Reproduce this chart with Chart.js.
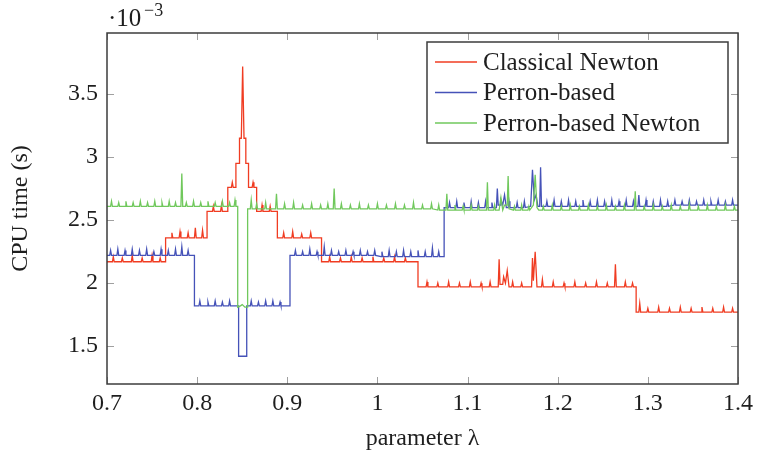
<!DOCTYPE html>
<html>
<head>
<meta charset="utf-8">
<script src="https://cdn.jsdelivr.net/npm/chart.js@4/dist/chart.umd.min.js"></script>
<style>
    html, body { margin: 0; padding: 0; background: #fff; }
    .chart-box { width: 758px; height: 457px; }
</style>
</head>
<body>
<div class="chart-box"><canvas id="cpuChart" width="758" height="457"></canvas></div>
<script>
// CPU time in units of 1e-3 s as [lambda, time]
const classicalNewton = [
    [0.700, 2.17], [0.706, 2.17], [0.707, 2.21], [0.708, 2.17], [0.716, 2.17], [0.717, 2.20], [0.718, 2.17],
    [0.727, 2.17], [0.728, 2.22], [0.729, 2.17], [0.738, 2.17], [0.739, 2.20], [0.740, 2.17],
    [0.749, 2.17], [0.750, 2.22], [0.751, 2.17], [0.758, 2.17], [0.759, 2.20], [0.760, 2.17], [0.765, 2.17],
    [0.765, 2.36], [0.771, 2.36], [0.772, 2.40], [0.773, 2.36], [0.780, 2.36], [0.781, 2.41], [0.782, 2.36],
    [0.789, 2.36], [0.790, 2.40], [0.791, 2.36], [0.797, 2.36], [0.798, 2.44], [0.799, 2.36],
    [0.805, 2.36], [0.806, 2.42], [0.807, 2.36], [0.811, 2.36],
    [0.811, 2.57], [0.817, 2.57], [0.818, 2.61], [0.819, 2.57], [0.826, 2.57], [0.827, 2.62], [0.828, 2.57], [0.834, 2.57],
    [0.834, 2.76], [0.838, 2.76], [0.839, 2.80], [0.840, 2.76], [0.843, 2.76],
    [0.843, 2.95], [0.847, 2.95], [0.847, 3.15], [0.849, 3.15], [0.8505, 3.72], [0.852, 3.15], [0.854, 3.15],
    [0.854, 2.95], [0.857, 2.95], [0.857, 2.76], [0.861, 2.76], [0.862, 2.80], [0.863, 2.76], [0.866, 2.76],
    [0.866, 2.57], [0.871, 2.57], [0.872, 2.62], [0.873, 2.57], [0.880, 2.57], [0.881, 2.61], [0.882, 2.57], [0.889, 2.57],
    [0.889, 2.36], [0.895, 2.36], [0.896, 2.40], [0.897, 2.36], [0.905, 2.36], [0.906, 2.41], [0.907, 2.36],
    [0.915, 2.36], [0.916, 2.39], [0.917, 2.36], [0.925, 2.36], [0.926, 2.40], [0.927, 2.36], [0.938, 2.36],
    [0.938, 2.17], [0.946, 2.17], [0.947, 2.21], [0.948, 2.17], [0.958, 2.17], [0.959, 2.20], [0.960, 2.17],
    [0.970, 2.17], [0.971, 2.21], [0.972, 2.17], [0.982, 2.17], [0.983, 2.20], [0.984, 2.17],
    [0.994, 2.17], [0.995, 2.21], [0.996, 2.17], [1.006, 2.17], [1.007, 2.20], [1.008, 2.17],
    [1.018, 2.17], [1.019, 2.21], [1.020, 2.17], [1.030, 2.17], [1.031, 2.20], [1.032, 2.17], [1.045, 2.17],
    [1.045, 1.97], [1.054, 1.97], [1.055, 2.01], [1.056, 1.97], [1.066, 1.97], [1.067, 2.00], [1.068, 1.97],
    [1.078, 1.97], [1.079, 2.01], [1.080, 1.97], [1.090, 1.97], [1.091, 2.00], [1.092, 1.97],
    [1.102, 1.97], [1.103, 2.01], [1.104, 1.97], [1.114, 1.97], [1.115, 2.00], [1.116, 1.97],
    [1.124, 1.97], [1.125, 2.01], [1.126, 1.97], [1.134, 1.97], [1.135, 2.19], [1.136, 1.99],
    [1.139, 1.99], [1.140, 2.05], [1.142, 2.00], [1.144, 2.10], [1.146, 1.97],
    [1.149, 1.97], [1.150, 2.01], [1.151, 1.97], [1.159, 1.97], [1.160, 2.00], [1.161, 1.97],
    [1.171, 1.97], [1.172, 2.20], [1.173, 2.02], [1.175, 2.25], [1.177, 1.97],
    [1.182, 1.97], [1.183, 2.03], [1.184, 1.97], [1.194, 1.97], [1.195, 2.01], [1.196, 1.97],
    [1.206, 1.97], [1.207, 2.00], [1.208, 1.97], [1.218, 1.97], [1.219, 2.01], [1.220, 1.97],
    [1.230, 1.97], [1.231, 2.00], [1.232, 1.97], [1.242, 1.97], [1.243, 2.01], [1.244, 1.97],
    [1.254, 1.97], [1.255, 2.00], [1.256, 1.97], [1.263, 1.97], [1.264, 2.15], [1.265, 1.97],
    [1.274, 1.97], [1.275, 2.01], [1.276, 1.97], [1.282, 1.97], [1.283, 2.00], [1.284, 1.97], [1.287, 1.97],
    [1.287, 1.77], [1.290, 1.77], [1.291, 1.84], [1.292, 1.77], [1.299, 1.77], [1.300, 1.80], [1.301, 1.77],
    [1.311, 1.77], [1.312, 1.81], [1.313, 1.77], [1.323, 1.77], [1.324, 1.80], [1.325, 1.77],
    [1.335, 1.77], [1.336, 1.81], [1.337, 1.77], [1.347, 1.77], [1.348, 1.80], [1.349, 1.77],
    [1.359, 1.77], [1.360, 1.81], [1.361, 1.77], [1.371, 1.77], [1.372, 1.80], [1.373, 1.77],
    [1.383, 1.77], [1.384, 1.81], [1.385, 1.77], [1.393, 1.77], [1.394, 1.80], [1.395, 1.77], [1.400, 1.77],
];

const perronBased = [
    [0.700, 2.22], [0.703, 2.22], [0.704, 2.26], [0.705, 2.22], [0.711, 2.22], [0.712, 2.27], [0.713, 2.22],
    [0.719, 2.22], [0.720, 2.26], [0.721, 2.22], [0.727, 2.22], [0.728, 2.27], [0.729, 2.22],
    [0.735, 2.22], [0.736, 2.26], [0.737, 2.22], [0.743, 2.22], [0.744, 2.27], [0.745, 2.22],
    [0.751, 2.22], [0.752, 2.25], [0.753, 2.22], [0.759, 2.22], [0.760, 2.27], [0.761, 2.22],
    [0.767, 2.22], [0.768, 2.26], [0.769, 2.22], [0.775, 2.22], [0.776, 2.27], [0.777, 2.22],
    [0.782, 2.22], [0.783, 2.29], [0.784, 2.22], [0.789, 2.22], [0.790, 2.26], [0.791, 2.22], [0.797, 2.22],
    [0.797, 1.82], [0.802, 1.82], [0.803, 1.86], [0.804, 1.82], [0.811, 1.82], [0.812, 1.85], [0.813, 1.82],
    [0.819, 1.82], [0.820, 1.86], [0.821, 1.82], [0.827, 1.82], [0.828, 1.85], [0.829, 1.82],
    [0.835, 1.82], [0.836, 1.86], [0.837, 1.82], [0.846, 1.82],
    [0.846, 1.42], [0.855, 1.42],
    [0.855, 1.82], [0.859, 1.82], [0.860, 1.86], [0.861, 1.82], [0.867, 1.82], [0.868, 1.85], [0.869, 1.82],
    [0.875, 1.82], [0.876, 1.86], [0.877, 1.82], [0.883, 1.82], [0.884, 1.86], [0.885, 1.82],
    [0.891, 1.82], [0.892, 1.85], [0.893, 1.82], [0.903, 1.82],
    [0.903, 2.22], [0.908, 2.22], [0.909, 2.26], [0.910, 2.22], [0.916, 2.22], [0.917, 2.25], [0.918, 2.22],
    [0.924, 2.22], [0.925, 2.27], [0.926, 2.22], [0.932, 2.22], [0.933, 2.25], [0.934, 2.22],
    [0.940, 2.22], [0.941, 2.29], [0.942, 2.22], [0.948, 2.22], [0.949, 2.26], [0.950, 2.22],
    [0.956, 2.22], [0.957, 2.25], [0.958, 2.22], [0.964, 2.22], [0.965, 2.26], [0.966, 2.22],
    [0.972, 2.22], [0.973, 2.25], [0.974, 2.22], [0.980, 2.22], [0.981, 2.26], [0.982, 2.22],
    [0.988, 2.22], [0.989, 2.25], [0.990, 2.22], [0.996, 2.22], [0.997, 2.26], [0.998, 2.22],
    [1.004, 2.21], [1.005, 2.25], [1.006, 2.21], [1.012, 2.21], [1.013, 2.26], [1.014, 2.21],
    [1.020, 2.21], [1.021, 2.25], [1.022, 2.21], [1.028, 2.21], [1.029, 2.26], [1.030, 2.21],
    [1.036, 2.21], [1.037, 2.25], [1.038, 2.21], [1.044, 2.21], [1.045, 2.26], [1.046, 2.21],
    [1.052, 2.21], [1.053, 2.25], [1.054, 2.21], [1.060, 2.21], [1.061, 2.28], [1.062, 2.21],
    [1.067, 2.21], [1.068, 2.25], [1.069, 2.21], [1.074, 2.21],
    [1.074, 2.60], [1.079, 2.60], [1.080, 2.64], [1.081, 2.60], [1.087, 2.60], [1.088, 2.65], [1.089, 2.60],
    [1.095, 2.60], [1.096, 2.64], [1.097, 2.60], [1.103, 2.60], [1.104, 2.65], [1.105, 2.60],
    [1.111, 2.60], [1.112, 2.64], [1.113, 2.60], [1.119, 2.60], [1.120, 2.65], [1.121, 2.60],
    [1.126, 2.60], [1.127, 2.64], [1.128, 2.60], [1.132, 2.60], [1.133, 2.75], [1.134, 2.62],
    [1.136, 2.62], [1.137, 2.66], [1.139, 2.62], [1.141, 2.70], [1.143, 2.60],
    [1.145, 2.60], [1.146, 2.65], [1.147, 2.60], [1.154, 2.60], [1.155, 2.64], [1.156, 2.60],
    [1.162, 2.60], [1.163, 2.65], [1.164, 2.60], [1.170, 2.61], [1.172, 2.90], [1.174, 2.66],
    [1.176, 2.70], [1.178, 2.61], [1.180, 2.61], [1.181, 2.92], [1.182, 2.61],
    [1.187, 2.61], [1.188, 2.65], [1.189, 2.61], [1.195, 2.61], [1.196, 2.66], [1.197, 2.61],
    [1.203, 2.61], [1.204, 2.65], [1.205, 2.61], [1.211, 2.61], [1.212, 2.66], [1.213, 2.61],
    [1.219, 2.61], [1.220, 2.65], [1.221, 2.61], [1.227, 2.61], [1.228, 2.66], [1.229, 2.61],
    [1.235, 2.61], [1.236, 2.65], [1.237, 2.61], [1.243, 2.61], [1.244, 2.66], [1.245, 2.61],
    [1.251, 2.61], [1.252, 2.65], [1.253, 2.61], [1.259, 2.61], [1.260, 2.66], [1.261, 2.61],
    [1.267, 2.61], [1.268, 2.65], [1.269, 2.61], [1.275, 2.61], [1.276, 2.66], [1.277, 2.61],
    [1.283, 2.61], [1.284, 2.65], [1.285, 2.61], [1.289, 2.61], [1.290, 2.70], [1.291, 2.61],
    [1.297, 2.61], [1.298, 2.66], [1.299, 2.61], [1.305, 2.61], [1.306, 2.65], [1.307, 2.61],
    [1.313, 2.61], [1.314, 2.66], [1.315, 2.61], [1.321, 2.61], [1.322, 2.65], [1.323, 2.61],
    [1.329, 2.62], [1.330, 2.66], [1.331, 2.62], [1.337, 2.62], [1.338, 2.65], [1.339, 2.62],
    [1.345, 2.62], [1.346, 2.66], [1.347, 2.62], [1.353, 2.62], [1.354, 2.65], [1.355, 2.62],
    [1.361, 2.62], [1.362, 2.66], [1.363, 2.62], [1.369, 2.62], [1.370, 2.65], [1.371, 2.62],
    [1.377, 2.62], [1.378, 2.66], [1.379, 2.62], [1.385, 2.62], [1.386, 2.65], [1.387, 2.62],
    [1.393, 2.62], [1.394, 2.66], [1.395, 2.62], [1.400, 2.62],
];

const perronNewton = [
    [0.700, 2.61], [0.704, 2.61], [0.705, 2.65], [0.706, 2.61], [0.712, 2.61], [0.713, 2.64], [0.714, 2.61],
    [0.720, 2.61], [0.721, 2.65], [0.722, 2.61], [0.728, 2.61], [0.729, 2.64], [0.730, 2.61],
    [0.736, 2.61], [0.737, 2.65], [0.738, 2.61], [0.744, 2.61], [0.745, 2.64], [0.746, 2.61],
    [0.752, 2.61], [0.753, 2.65], [0.754, 2.61], [0.760, 2.61], [0.761, 2.64], [0.762, 2.61],
    [0.768, 2.61], [0.769, 2.65], [0.770, 2.61], [0.775, 2.61], [0.776, 2.64], [0.777, 2.61],
    [0.782, 2.61], [0.783, 2.87], [0.784, 2.61], [0.787, 2.61], [0.788, 2.64], [0.789, 2.61],
    [0.795, 2.61], [0.796, 2.65], [0.797, 2.61], [0.803, 2.61], [0.804, 2.64], [0.805, 2.61],
    [0.811, 2.61], [0.812, 2.65], [0.813, 2.61], [0.819, 2.61], [0.820, 2.64], [0.821, 2.61],
    [0.827, 2.61], [0.828, 2.65], [0.829, 2.61], [0.835, 2.61], [0.836, 2.64], [0.837, 2.61],
    [0.841, 2.61], [0.842, 2.66], [0.843, 2.61], [0.845, 2.61],
    [0.845, 1.81], [0.848, 1.82], [0.850, 1.83], [0.853, 1.81], [0.856, 1.81],
    [0.856, 2.59], [0.859, 2.59], [0.860, 2.66], [0.861, 2.59], [0.865, 2.59], [0.866, 2.63], [0.867, 2.59],
    [0.875, 2.59], [0.876, 2.64], [0.877, 2.59], [0.887, 2.59], [0.888, 2.71], [0.889, 2.59],
    [0.896, 2.59], [0.897, 2.63], [0.898, 2.59], [0.906, 2.59], [0.907, 2.64], [0.908, 2.59],
    [0.916, 2.59], [0.917, 2.62], [0.918, 2.59], [0.926, 2.59], [0.927, 2.63], [0.928, 2.59],
    [0.936, 2.59], [0.937, 2.62], [0.938, 2.59], [0.944, 2.59], [0.945, 2.63], [0.946, 2.59],
    [0.951, 2.59], [0.952, 2.75], [0.953, 2.59], [0.959, 2.59], [0.960, 2.63], [0.961, 2.59],
    [0.969, 2.59], [0.970, 2.62], [0.971, 2.59], [0.979, 2.59], [0.980, 2.63], [0.981, 2.59],
    [0.989, 2.59], [0.990, 2.62], [0.991, 2.59], [0.999, 2.59], [1.000, 2.63], [1.001, 2.59],
    [1.009, 2.59], [1.010, 2.62], [1.011, 2.59], [1.019, 2.59], [1.020, 2.63], [1.021, 2.59],
    [1.029, 2.59], [1.030, 2.62], [1.031, 2.59], [1.039, 2.59], [1.040, 2.64], [1.041, 2.59],
    [1.049, 2.59], [1.050, 2.62], [1.051, 2.59], [1.059, 2.59], [1.060, 2.63], [1.061, 2.59],
    [1.067, 2.58], [1.068, 2.62], [1.069, 2.58], [1.076, 2.58], [1.077, 2.71], [1.078, 2.58],
    [1.085, 2.58], [1.086, 2.62], [1.087, 2.58], [1.094, 2.58], [1.095, 2.61], [1.096, 2.58],
    [1.103, 2.58], [1.104, 2.62], [1.105, 2.58], [1.111, 2.58], [1.112, 2.61], [1.113, 2.58],
    [1.121, 2.58], [1.122, 2.80], [1.123, 2.58], [1.129, 2.58], [1.130, 2.62], [1.131, 2.58],
    [1.135, 2.58], [1.137, 2.68], [1.139, 2.58], [1.141, 2.62], [1.144, 2.62], [1.145, 2.85], [1.146, 2.59],
    [1.151, 2.58], [1.152, 2.61], [1.153, 2.58], [1.159, 2.58], [1.160, 2.62], [1.161, 2.58],
    [1.167, 2.58], [1.168, 2.61], [1.169, 2.58], [1.173, 2.62], [1.175, 2.86], [1.177, 2.60], [1.179, 2.58],
    [1.183, 2.58], [1.184, 2.61], [1.185, 2.58], [1.193, 2.58], [1.194, 2.62], [1.195, 2.58],
    [1.203, 2.58], [1.204, 2.61], [1.205, 2.58], [1.213, 2.58], [1.214, 2.62], [1.215, 2.58],
    [1.223, 2.58], [1.224, 2.61], [1.225, 2.58], [1.233, 2.58], [1.234, 2.62], [1.235, 2.58],
    [1.243, 2.58], [1.244, 2.61], [1.245, 2.58], [1.253, 2.58], [1.254, 2.62], [1.255, 2.58],
    [1.263, 2.58], [1.264, 2.61], [1.265, 2.58], [1.273, 2.58], [1.274, 2.62], [1.275, 2.58],
    [1.285, 2.58], [1.286, 2.73], [1.287, 2.58], [1.295, 2.58], [1.296, 2.61], [1.297, 2.58],
    [1.305, 2.58], [1.306, 2.62], [1.307, 2.58], [1.315, 2.58], [1.316, 2.61], [1.317, 2.58],
    [1.325, 2.58], [1.326, 2.62], [1.327, 2.58], [1.335, 2.58], [1.336, 2.61], [1.337, 2.58],
    [1.345, 2.58], [1.346, 2.63], [1.347, 2.58], [1.355, 2.58], [1.356, 2.61], [1.357, 2.58],
    [1.365, 2.58], [1.366, 2.62], [1.367, 2.58], [1.375, 2.58], [1.376, 2.61], [1.377, 2.58],
    [1.385, 2.58], [1.386, 2.62], [1.387, 2.58], [1.395, 2.58], [1.396, 2.61], [1.397, 2.58], [1.400, 2.58],
];

const seriesNames = ['Classical Newton', 'Perron-based', 'Perron-based Newton'];
const seriesColors = ['#f03c22', '#4552b8', '#70c85c'];
const xTicks = [0.7, 0.8, 0.9, 1, 1.1, 1.2, 1.3, 1.4];
const yTicks = [1.5, 2, 2.5, 3, 3.5];

const serif = '"Liberation Serif", "DejaVu Serif", serif';

const toPoints = (pairs) => pairs.map(([x, y]) => ({ x, y }));

// pgfplots-like frame, inward ticks on all four sides, boxed legend, exponent label
const framePlugin = {
    id: 'frame',
    beforeDatasetsDraw(chart) {
        const { ctx, chartArea: a, scales } = chart;
        const len = 7;
        ctx.save();
        ctx.strokeStyle = '#a0a0a0';
        ctx.lineWidth = 1;
        ctx.beginPath();
        xTicks.forEach((v) => {
            const px = Math.round(scales.x.getPixelForValue(v)) + 0.5;
            ctx.moveTo(px, a.bottom);
            ctx.lineTo(px, a.bottom - len);
            ctx.moveTo(px, a.top);
            ctx.lineTo(px, a.top + len);
        });
        yTicks.forEach((v) => {
            const py = Math.round(scales.y.getPixelForValue(v)) + 0.5;
            ctx.moveTo(a.left, py);
            ctx.lineTo(a.left + len, py);
            ctx.moveTo(a.right, py);
            ctx.lineTo(a.right - len, py);
        });
        ctx.stroke();
        ctx.restore();
    },
    afterDatasetsDraw(chart) {
        const { ctx, chartArea: a } = chart;
        ctx.save();
        ctx.strokeStyle = '#3c3c3c';
        ctx.lineWidth = 1.5;
        ctx.strokeRect(a.left, a.top, a.right - a.left, a.bottom - a.top);

        // legend
        const box = { x: 427, y: 42, w: 301, h: 101 };
        ctx.fillStyle = '#fff';
        ctx.fillRect(box.x, box.y, box.w, box.h);
        ctx.strokeRect(box.x, box.y, box.w, box.h);
        ctx.font = `25px ${serif}`;
        ctx.textBaseline = 'middle';
        chart.data.datasets.forEach((ds, i) => {
            const cy = 62 + i * 30.5;
            ctx.strokeStyle = ds.borderColor;
            ctx.lineWidth = 1.3;
            ctx.beginPath();
            ctx.moveTo(435, cy);
            ctx.lineTo(477, cy);
            ctx.stroke();
            ctx.fillStyle = '#1e1e1e';
            ctx.fillText(ds.label, 483, cy + 1);
        });

        // axis multiplier
        ctx.fillStyle = '#1e1e1e';
        ctx.textBaseline = 'alphabetic';
        ctx.font = `25px ${serif}`;
        ctx.fillText('·10', 108, 26);
        ctx.font = `18px ${serif}`;
        ctx.fillText('−3', 144, 16);
        ctx.restore();
    },
};

document.addEventListener('DOMContentLoaded', () => {
    const tickFont = { family: serif, size: 24 };
    const data = {
        datasets: [classicalNewton, perronBased, perronNewton].map((pairs, i) => ({
            label: seriesNames[i],
            data: toPoints(pairs),
            borderColor: seriesColors[i],
            borderWidth: 1.3,
            pointRadius: 0,
            tension: 0,
            order: 2 - i,
        })),
    };
    const config = {
        type: 'line',
        data: data,
        options: {
            responsive: false,
            animation: false,
            layout: {
                padding: { left: 0, right: 17, top: 33, bottom: 0 },
            },
            plugins: {
                legend: { display: false },
                tooltip: { enabled: false },
            },
            scales: {
                x: {
                    type: 'linear',
                    min: 0.7,
                    max: 1.4,
                    grid: { display: false, drawTicks: false },
                    border: { display: false },
                    afterBuildTicks: (scale) => {
                        scale.ticks = xTicks.map((v) => ({ value: v }));
                    },
                    afterFit: (scale) => {
                        scale.height = 73;
                    },
                    ticks: {
                        color: '#1e1e1e',
                        font: tickFont,
                        padding: 5,
                        maxRotation: 0,
                        callback: (v) => String(v),
                    },
                    title: {
                        display: true,
                        text: 'parameter λ',
                        color: '#1e1e1e',
                        font: tickFont,
                        padding: { top: 2 },
                    },
                },
                y: {
                    type: 'linear',
                    min: 1.2,
                    max: 3.985,
                    grid: { display: false, drawTicks: false },
                    border: { display: false },
                    afterBuildTicks: (scale) => {
                        scale.ticks = yTicks.map((v) => ({ value: v }));
                    },
                    afterFit: (scale) => {
                        scale.width = 107;
                    },
                    ticks: {
                        color: '#1e1e1e',
                        font: tickFont,
                        padding: 9,
                        callback: (v) => String(v),
                    },
                    title: {
                        display: true,
                        text: 'CPU time (s)',
                        color: '#1e1e1e',
                        font: tickFont,
                        padding: { top: 6 },
                    },
                },
            },
        },
        plugins: [framePlugin],
    };
    new Chart(document.getElementById('cpuChart'), config);
});
</script>
</body>
</html>
